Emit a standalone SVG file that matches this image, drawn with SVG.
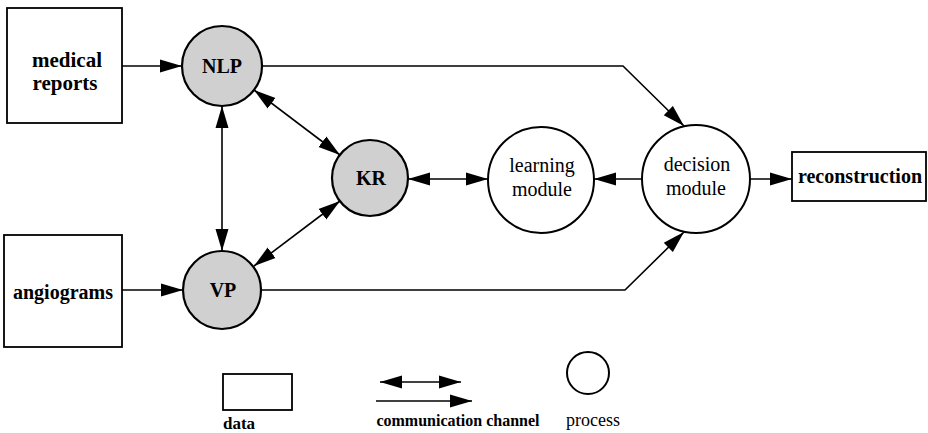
<svg xmlns="http://www.w3.org/2000/svg" width="928" height="433" viewBox="0 0 928 433">
<style>
.box{fill:#fff;stroke:#000;stroke-width:1.8}
.proc{fill:#fff;stroke:#000;stroke-width:2}
.shade{fill:#d0d0d0;stroke:#000;stroke-width:2.2}
.ln{fill:none;stroke:#000;stroke-width:1.6}
text{font-family:"Liberation Serif","Times New Roman",serif;fill:#000;text-anchor:middle}
.b{font-weight:bold}
</style>
<defs>
<marker id="ah" markerUnits="userSpaceOnUse" markerWidth="24" markerHeight="14" refX="22" refY="7" orient="auto-start-reverse">
<path d="M0,0.5 L22,7 L0,13.5 Z" fill="#000"/>
</marker>
</defs>
<g id="connectors">
<line class="ln" x1="122" y1="66" x2="182" y2="66" marker-end="url(#ah)"/>
<line class="ln" x1="122" y1="290" x2="183" y2="290" marker-end="url(#ah)"/>
<line class="ln" x1="222" y1="106" x2="222" y2="251" marker-start="url(#ah)" marker-end="url(#ah)"/>
<line class="ln" x1="254" y1="90" x2="340" y2="155" marker-start="url(#ah)" marker-end="url(#ah)"/>
<line class="ln" x1="254" y1="266" x2="340" y2="201" marker-start="url(#ah)" marker-end="url(#ah)"/>
<line class="ln" x1="408" y1="179" x2="488" y2="179" marker-start="url(#ah)" marker-end="url(#ah)"/>
<line class="ln" x1="642" y1="179" x2="594" y2="179" marker-end="url(#ah)"/>
<line class="ln" x1="750" y1="179" x2="792" y2="179" marker-end="url(#ah)"/>
<polyline class="ln" points="262,66 623,66 684,126" marker-end="url(#ah)"/>
<polyline class="ln" points="262,290 625,290 684,232" marker-end="url(#ah)"/>
</g>
<g id="medical-reports">
<rect class="box" x="7" y="8" width="115" height="115"/>
<text class="b" x="67" y="67" font-size="21">medical</text>
<text class="b" x="65" y="90" font-size="21">reports</text>
</g>
<g id="angiograms">
<rect class="box" x="4" y="235" width="118" height="112"/>
<text class="b" x="63" y="299" font-size="20">angiograms</text>
</g>
<g id="NLP">
<circle class="shade" cx="222" cy="66" r="40"/>
<text class="b" x="222" y="73" font-size="20">NLP</text>
</g>
<g id="VP">
<circle class="shade" cx="222" cy="290" r="39"/>
<text class="b" x="223" y="297" font-size="20">VP</text>
</g>
<g id="KR">
<circle class="shade" cx="370" cy="178" r="38"/>
<text class="b" x="371" y="185" font-size="20">KR</text>
</g>
<g id="learning-module">
<circle class="proc" cx="541" cy="180" r="53"/>
<text x="542" y="172" font-size="20">learning</text>
<text x="542" y="196" font-size="20">module</text>
</g>
<g id="decision-module">
<circle class="proc" cx="696" cy="179" r="54"/>
<text x="697" y="171" font-size="20">decision</text>
<text x="696" y="195" font-size="20">module</text>
</g>
<g id="reconstruction">
<rect class="box" x="792" y="152" width="134" height="49"/>
<text class="b" x="860" y="183" font-size="20">reconstruction</text>
</g>
<g id="legend">
<rect class="box" x="223" y="374" width="69" height="36"/>
<text class="b" x="239" y="429" font-size="17">data</text>
<line class="ln" x1="380" y1="382" x2="461" y2="382" marker-start="url(#ah)" marker-end="url(#ah)"/>
<line class="ln" x1="376" y1="401" x2="472" y2="401" marker-end="url(#ah)"/>
<text class="b" x="458" y="426" font-size="16">communication channel</text>
<circle class="proc" cx="588" cy="373" r="21"/>
<text x="593" y="426" font-size="18">process</text>
</g>
</svg>
